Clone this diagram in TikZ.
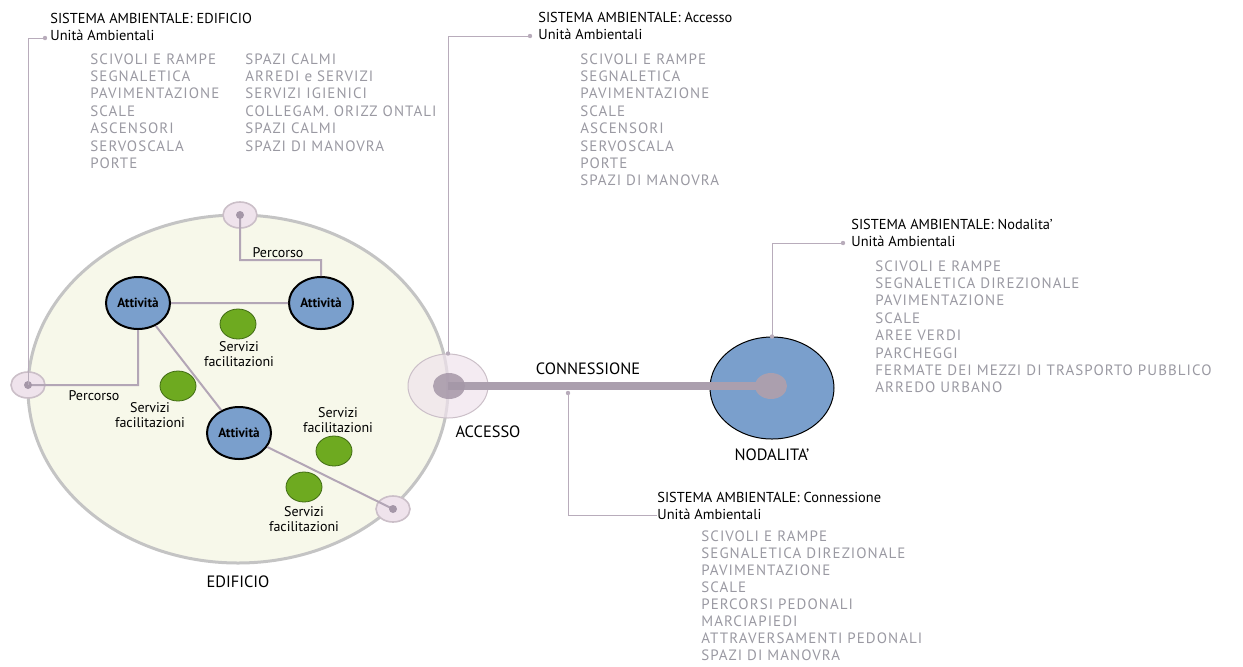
\documentclass[tikz,border=0pt]{standalone}
\usepackage{fontspec}
\setmainfont{PT Sans}
\newfontfamily\listfont[LetterSpace=7]{PT Sans}
\usetikzlibrary{positioning,shapes.geometric}

\definecolor{cream}{HTML}{F7F8EA}
\definecolor{ringgray}{HTML}{C4C4C4}
\definecolor{jointfill}{HTML}{EFE3EC}
\definecolor{jointline}{HTML}{CBBFC8}
\definecolor{dotc}{HTML}{A597A8}
\definecolor{nodeblue}{HTML}{7A9FCC}
\definecolor{servgreen}{HTML}{6EAA20}
\definecolor{servline}{HTML}{3F6A12}
\definecolor{pathline}{HTML}{B3A6B6}
\definecolor{callline}{HTML}{B8ACBB}
\definecolor{barc}{HTML}{AB9FAE}
\definecolor{listgray}{HTML}{9A99A2}

\begin{document}
\begin{tikzpicture}[x=0.5pt,y=-0.5pt,
  every node/.style={font=\fontsize{7.2}{8.4}\selectfont},
  ring/.style={ellipse,draw=ringgray,line width=1.5pt,fill=cream,
    minimum width=210pt,minimum height=174pt},
  joint/.style={ellipse,draw=jointline,fill=jointfill,line width=.8pt,
    minimum width=17pt,minimum height=13pt},
  attiv/.style={ellipse,draw=black,line width=1pt,fill=nodeblue,inner sep=0pt,
    minimum width=32pt,minimum height=26pt,font=\fontsize{6.6}{7}\selectfont\bfseries},
  serv/.style={ellipse,draw=servline,fill=servgreen,line width=.4pt,
    minimum width=18pt,minimum height=15pt},
  tag/.style={align=center,inner sep=0pt,font=\fontsize{7}{7.6}\selectfont},
  label/.style={font=\fontsize{8.2}{9}\selectfont},
  head/.style={anchor=north west,align=left,inner sep=0pt},
  lista/.style={anchor=north west,align=left,inner sep=0pt,text=listgray,
    font=\listfont\fontsize{7.5}{8.7}\selectfont},
  percorso/.style={draw=pathline,line width=1pt},
  callout/.style={draw=callline,line width=.5pt},
  bar/.style={draw=barc,line width=4pt}]
\useasboundingbox (0,0) rectangle (1243,666);

% edificio
\node[ring] (edif) at (238,389) {};
\node[label] (edlab) [below=2pt of edif] {EDIFICIO};

\node[joint] (jT) at (240,215) {};
\node[joint] (jL) at (28,385) {};
\node[joint] (jB) at (393,509) {};

\node[attiv] (a1) at (138,303) {Attività};
\node[attiv] (a2) at (321,303) {Attività};
\node[attiv] (a3) at (239,433) {Attività};

\node[serv] (s1) at (238,324) {};
\node[serv] (s2) at (178,386) {};
\node[serv] (s3) at (334,451) {};
\node[serv] (s4) at (304,487) {};
\node[tag] (t1) at (239,354) {Servizi\\facilitazioni};
\node[tag] (t2) at (150,415) {Servizi\\facilitazioni};
\node[tag] (t3) at (338,420) {Servizi\\facilitazioni};
\node[tag] (t4) at (304,519) {Servizi\\facilitazioni};

\node[tag] (p1) at (278,253) {Percorso};
\node[tag] (p2) at (94,396) {Percorso};

\path[percorso] (jT.center) -- (240,260) -| (a2.north)
  (a1.east) -- (a2.west)
  (a1.south) |- (jL.center)
  (a1) -- (a3)
  (a3) -- (jB.center);
\foreach \j in {jT,jL,jB} \fill[dotc] (\j.center) circle (2pt);

% accesso, connessione, nodalita'
\node[ellipse,draw=jointline,fill=jointfill,fill opacity=.7,line width=.5pt,
  minimum width=40pt,minimum height=32pt] (acc) at (448,386) {};
\node[label] (acclab) [below=0pt of acc,xshift=20pt] {ACCESSO};
\node[ellipse,draw=black,line width=.5pt,fill=nodeblue,
  minimum width=62pt,minimum height=51pt] (nod) at (772,388) {};
\node[label] (nodlab) [below=1pt of nod] {NODALITA’};
\node[ellipse,fill=barc,minimum width=16pt,minimum height=13pt,inner sep=0pt] (nodin) at (771,386) {};
\path[bar] (acc.center) -- (nodin.center);
\node[ellipse,fill=dotc,fill opacity=.85,minimum width=16pt,minimum height=13pt,inner sep=0pt] (accin) at (449,386) {};
\node[label] (conlab) at (588,369) {CONNESSIONE};

% sistemi ambientali
\coordinate (dE) at (45,38);
\coordinate (dA) at (530,36);
\coordinate (dN) at (843,243);
\coordinate (dC) at (657,515);
\coordinate (cB) at (568,393);
\path[callout] (jL.center) |- (dE)
  (acc.north) |- (dA)
  (nod.north) |- (dN)
  (cB) |- (dC);
\foreach \d in {dE,dA,dN,cB,acc.north,nod.north} \fill[callline] (\d) circle (1.1pt);

\node[head] (hE) at (50,13) {SISTEMA AMBIENTALE: EDIFICIO\\Unità Ambientali};
\node[lista] (lE1) at (90,53) {SCIVOLI E RAMPE\\SEGNALETICA\\PAVIMENTAZIONE\\SCALE\\ASCENSORI\\SERVOSCALA\\PORTE};
\node[lista] (lE2) at (245,53) {SPAZI CALMI\\ARREDI e SERVIZI\\SERVIZI IGIENICI\\COLLEGAM. ORIZZ ONTALI\\SPAZI CALMI\\SPAZI DI MANOVRA};

\node[head] (hA) at (538,12) {SISTEMA AMBIENTALE: Accesso\\Unità Ambientali};
\node[lista] (lA) at (580,53) {SCIVOLI E RAMPE\\SEGNALETICA\\PAVIMENTAZIONE\\SCALE\\ASCENSORI\\SERVOSCALA\\PORTE\\SPAZI DI MANOVRA};

\node[head] (hN) at (851,219) {SISTEMA AMBIENTALE: Nodalita’\\Unità Ambientali};
\node[lista] (lN) at (875,260) {SCIVOLI E RAMPE\\SEGNALETICA DIREZIONALE\\PAVIMENTAZIONE\\SCALE\\AREE VERDI\\PARCHEGGI\\FERMATE DEI MEZZI DI TRASPORTO PUBBLICO\\ARREDO URBANO};

\node[head] (hC) at (657,492) {SISTEMA AMBIENTALE: Connessione\\Unità Ambientali};
\node[lista,font=\listfont\fontsize{7.5}{8.55}\selectfont] (lC) at (701,530) {SCIVOLI E RAMPE\\SEGNALETICA DIREZIONALE\\PAVIMENTAZIONE\\SCALE\\PERCORSI PEDONALI\\MARCIAPIEDI\\ATTRAVERSAMENTI PEDONALI\\SPAZI DI MANOVRA};
\end{tikzpicture}
\end{document}
